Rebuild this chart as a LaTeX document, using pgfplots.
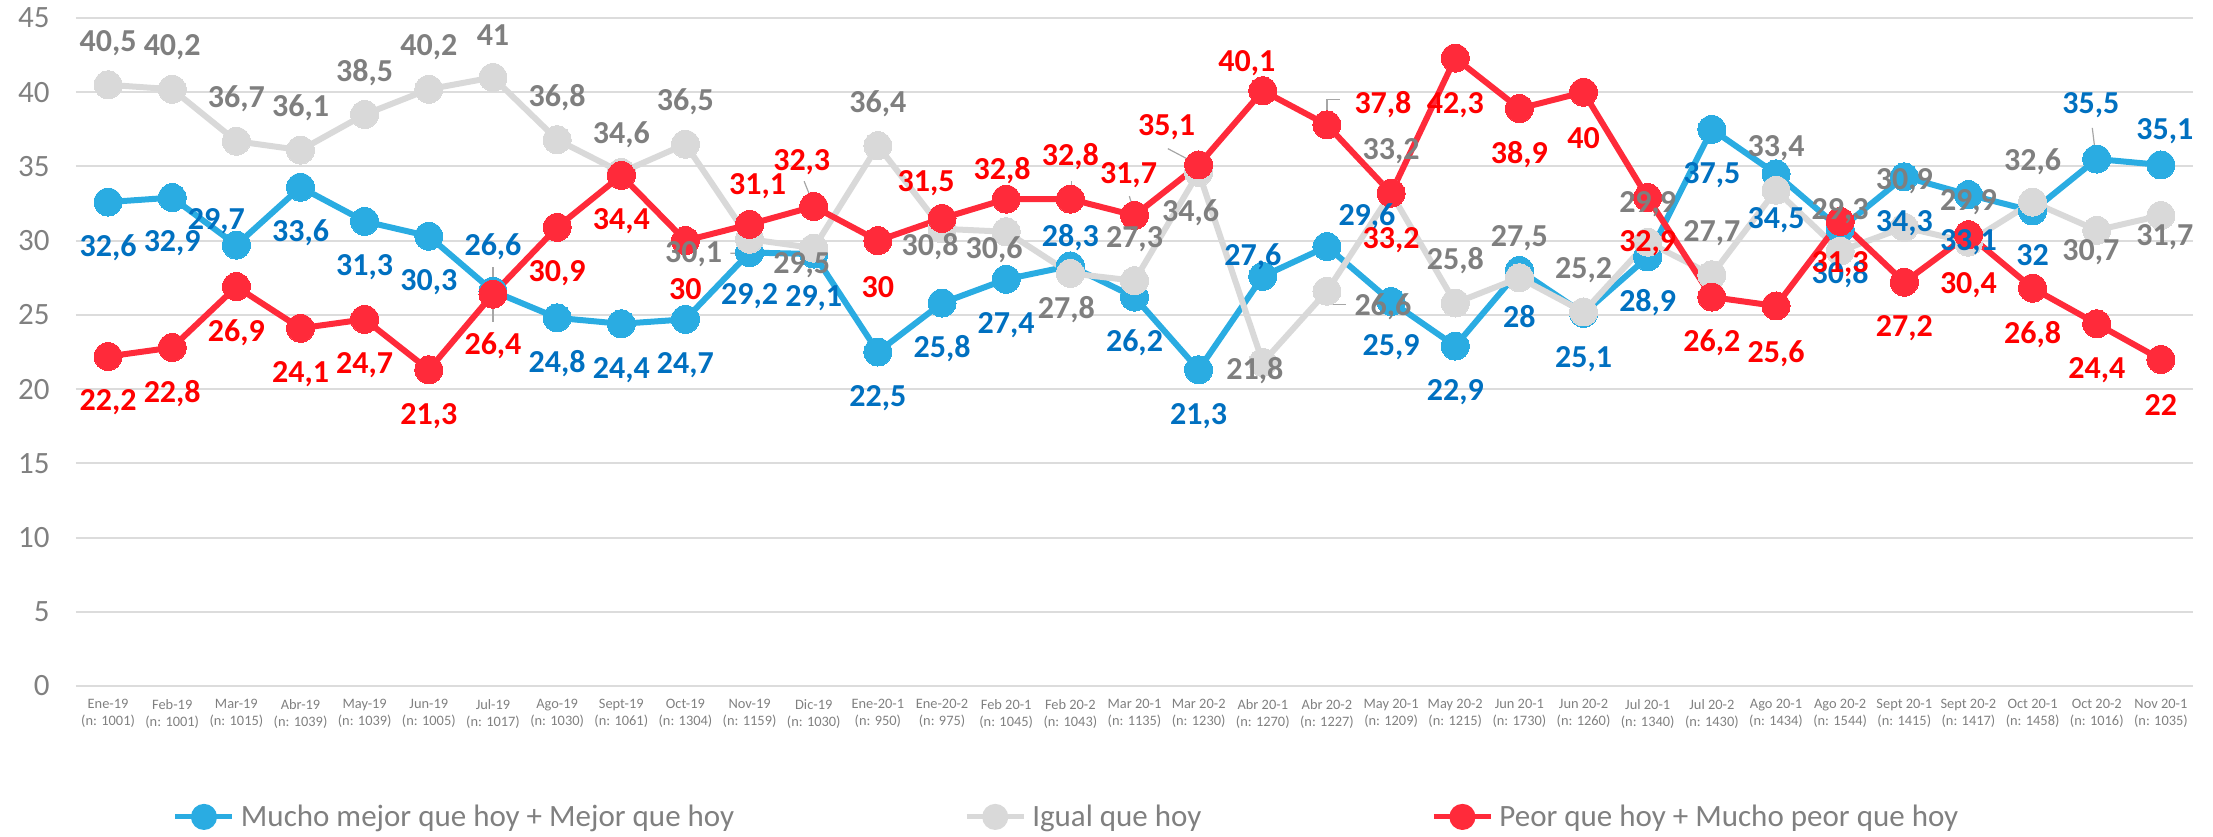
\documentclass[border=0pt]{standalone}
\usepackage{pgfplots}
\pgfplotsset{compat=1.18}
\usepackage{pgfplotstable}
\usepackage{fontspec}
\setmainfont{Carlito}
\definecolor{blueline}{HTML}{2AACE2}
\definecolor{bluelab}{HTML}{0070C0}
\definecolor{grayline}{HTML}{D9D9D9}
\definecolor{graylab}{HTML}{7F7F7F}
\definecolor{redline}{HTML}{FF2A3A}
\definecolor{redlab}{HTML}{FF0000}
\definecolor{gridc}{HTML}{DCDCDC}
\definecolor{tickc}{HTML}{808080}
\definecolor{leader}{HTML}{A6A6A6}

\pgfplotstableread{
x y dx dy
0 32.6 0 -23
1 32.9 0 -23
2 29.7 -10 12
3 33.6 0 -23
4 31.3 0 -23
5 30.3 0 -23
6 26.6 0 22
7 24.8 0 -23
8 24.4 0 -23
9 24.7 0 -23
10 29.2 0 -22
11 29.1 0 -22
12 22.5 0 -23
13 25.8 0 -23
14 27.4 0 -23
15 28.3 0 14
16 26.2 0 -23
17 21.3 0 -23
18 27.6 -5 10
19 29.6 20 15
20 25.9 0 -23
21 22.9 0 -23
22 28 0 -23
23 25.1 0 -23
24 28.9 0 -23
25 37.5 0 -23
26 34.5 0 -23
27 30.8 0 -23
28 34.3 0 -23
29 33.1 0 -24
30 32 0 -22
31 35.5 -3 27
32 35.1 2 17
}\bluedata

\pgfplotstableread{
x y dx dy
0 40.5 0 21
1 40.2 0 21
2 36.7 0 21
3 36.1 0 21
4 38.5 0 21
5 40.2 0 21
6 41 0 21
7 36.8 0 21
8 34.6 0 19
9 36.5 0 21
10 30.1 -28 -7.5
11 29.5 -6 -8.5
12 36.4 0 21
13 30.8 -6 -9
14 30.6 -6 -9
15 27.8 -2 -18
16 27.3 0 21
17 34.6 -4 -20
18 21.8 -4 -4
19 26.6 28 -8
20 33.2 0 21
21 25.8 0 21
22 27.5 0 20
23 25.2 0 21
24 29.9 0 19
25 27.7 0 21
26 33.4 0 21
27 29.3 0 20
28 30.9 0 23
29 29.9 0 20
30 32.6 0 20
31 30.7 -3 -11
32 31.7 2 -11
}\graydata

\pgfplotstableread{
x y dx dy
0 22.2 0 -23
1 22.8 0 -23
2 26.9 0 -23
3 24.1 0 -23
4 24.7 0 -23
5 21.3 0 -23
6 26.4 0 -26
7 30.9 0 -23
8 34.4 0 -23
9 30 0 -24
10 31.1 4 19
11 32.3 -6 22
12 30 0 -23
13 31.5 -8 17.5
14 32.8 -2 14
15 32.8 0 21
16 31.7 -3 20
17 35.1 -16 19
18 40.1 -8 14
19 37.8 28 10
20 33.2 0 -23.5
21 42.3 0 -23.5
22 38.9 0 -23
23 40 0 -23
24 32.9 0 -23
25 26.2 0 -23
26 25.6 0 -24
27 31.3 0 -21.5
28 27.2 0 -23
29 30.4 0 -25
30 26.8 0 -23
31 24.4 0 -23
32 22 0 -23
}\reddata

\begin{document}
\begin{tikzpicture}
\begin{axis}[
  scale only axis,
  width=1058.5pt, height=334pt,
  xmin=-0.5, xmax=32.5,
  ymin=0, ymax=45,
  ytick={0,5,...,45},
  xtick={0,...,32},
  xticklabels={{Ene-19\\(n: 1001)},{Feb-19\\(n: 1001)},{Mar-19\\(n: 1015)},{Abr-19\\(n: 1039)},{May-19\\(n: 1039)},{Jun-19\\(n: 1005)},{Jul-19\\(n: 1017)},{Ago-19\\(n: 1030)},{Sept-19\\(n: 1061)},{Oct-19\\(n: 1304)},{Nov-19\\(n: 1159)},{Dic-19\\(n: 1030)},{Ene-20-1\\(n: 950)},{Ene-20-2\\(n: 975)},{Feb 20-1\\(n: 1045)},{Feb 20-2\\(n: 1043)},{Mar 20-1\\(n: 1135)},{Mar 20-2\\(n: 1230)},{Abr 20-1\\(n: 1270)},{Abr 20-2\\(n: 1227)},{May 20-1\\(n: 1209)},{May 20-2\\(n: 1215)},{Jun 20-1\\(n: 1730)},{Jun 20-2\\(n: 1260)},{Jul 20-1\\(n: 1340)},{Jul 20-2\\(n: 1430)},{Ago 20-1\\(n: 1434)},{Ago 20-2\\(n: 1544)},{Sept 20-1\\(n: 1415)},{Sept 20-2\\(n: 1417)},{Oct 20-1\\(n: 1458)},{Oct 20-2\\(n: 1016)},{Nov 20-1\\(n: 1035)}},
  xticklabel style={align=center, anchor=north, inner sep=0pt, yshift=-6.5pt, font=\fontsize{7.2}{8.5}\selectfont, text=tickc},
  yticklabel style={anchor=east, inner sep=0pt, xshift=-13pt, font=\fontsize{15.5}{18}\selectfont, text=tickc},
  major tick length=0pt,
  tick style={draw=none},
  axis line style={draw=none},
  ymajorgrids,
  grid style={gridc, line width=1pt},
  /pgf/number format/use comma,
  /pgf/number format/1000 sep={},
  /pgf/number format/assume math mode=true,
  legend columns=3,
  legend style={at={(0.0458,-0.196)}, anchor=west, draw=none, fill=none, inner sep=0pt, outer sep=0pt,
    font=\fontsize{15.5}{18}\selectfont, text=tickc,
    nodes={inner sep=1pt, anchor=west},
    /tikz/every odd column/.append style={column sep=2pt},
    /tikz/every even column/.append style={column sep=114pt}},
  clip=false,
]
\addplot[blueline, line width=3pt, mark=*, mark size=7pt, mark options={fill=blueline, draw=blueline, line width=0pt},
  legend image code/.code={\draw[blueline, line width=2.5pt] (0pt,0pt) -- (28.5pt,0pt); \fill[blueline] (14.25pt,0pt) circle (5pt);}]
  table[x=x, y=y] {\bluedata};
\addlegendentry{Mucho mejor que hoy + Mejor que hoy}
\addplot[grayline, line width=3pt, mark=*, mark size=7pt, mark options={fill=grayline, draw=grayline, line width=0pt},
  legend image code/.code={\draw[grayline, line width=2.5pt] (0pt,0pt) -- (28.5pt,0pt); \fill[grayline] (14.25pt,0pt) circle (5pt);}]
  table[x=x, y=y] {\graydata};
\addlegendentry{Igual que hoy}
\addplot[redline, line width=3pt, mark=*, mark size=7pt, mark options={fill=redline, draw=redline, line width=0pt},
  legend image code/.code={\draw[redline, line width=2.5pt] (0pt,0pt) -- (28.5pt,0pt); \fill[redline] (14.25pt,0pt) circle (5pt);}]
  table[x=x, y=y] {\reddata};
\addlegendentry{Peor que hoy + Mucho peor que hoy}

% leader lines of the data labels
\draw[leader, line width=0.6pt] (axis cs:6,28.2) -- (axis cs:6,24.5);
\draw[leader, line width=0.6pt] (axis cs:9.7,29.15) -- (axis cs:9.85,29.15) -- (axis cs:10.05,30.6);
\draw[leader, line width=0.6pt] (axis cs:10.85,34) -- (axis cs:11,32.4);
\draw[leader, line width=0.6pt] (axis cs:15.02,34) -- (axis cs:15.02,32.8);
\draw[leader, line width=0.6pt] (axis cs:15.92,33) -- (axis cs:16,31.8);
\draw[leader, line width=0.6pt] (axis cs:16.52,36.2) -- (axis cs:17,35.1);
\draw[leader, line width=0.6pt] (axis cs:19.2,39.5) -- (axis cs:19,39.5) -- (axis cs:19,37.8);
\draw[leader, line width=0.6pt] (axis cs:19,26.7) -- (axis cs:19,25.7) -- (axis cs:19.3,25.7);
\draw[leader, line width=0.6pt] (axis cs:30.93,37.6) -- (axis cs:30.99,35.5);

\addplot[draw=none, no markers, forget plot, nodes near coords, nodes near coords align={anchor=center},
  visualization depends on={\thisrow{dx}\as\dx},
  visualization depends on={\thisrow{dy}\as\dy},
  every node near coord/.append style={text=bluelab, font=\fontsize{16}{18}\selectfont\bfseries, inner sep=0pt, xshift=\dx pt, yshift=\dy pt}]
  table[x=x, y=y] {\bluedata};
\addplot[draw=none, no markers, forget plot, nodes near coords, nodes near coords align={anchor=center},
  visualization depends on={\thisrow{dx}\as\dx},
  visualization depends on={\thisrow{dy}\as\dy},
  every node near coord/.append style={text=graylab, font=\fontsize{16}{18}\selectfont\bfseries, inner sep=0pt, xshift=\dx pt, yshift=\dy pt}]
  table[x=x, y=y] {\graydata};
\addplot[draw=none, no markers, forget plot, nodes near coords, nodes near coords align={anchor=center},
  visualization depends on={\thisrow{dx}\as\dx},
  visualization depends on={\thisrow{dy}\as\dy},
  every node near coord/.append style={text=redlab, font=\fontsize{16}{18}\selectfont\bfseries, inner sep=0pt, xshift=\dx pt, yshift=\dy pt}]
  table[x=x, y=y] {\reddata};
\end{axis}
\pgfresetboundingbox
\useasboundingbox (-38pt,-75pt) rectangle (1068.5pt,343pt);
\end{tikzpicture}
\end{document}
